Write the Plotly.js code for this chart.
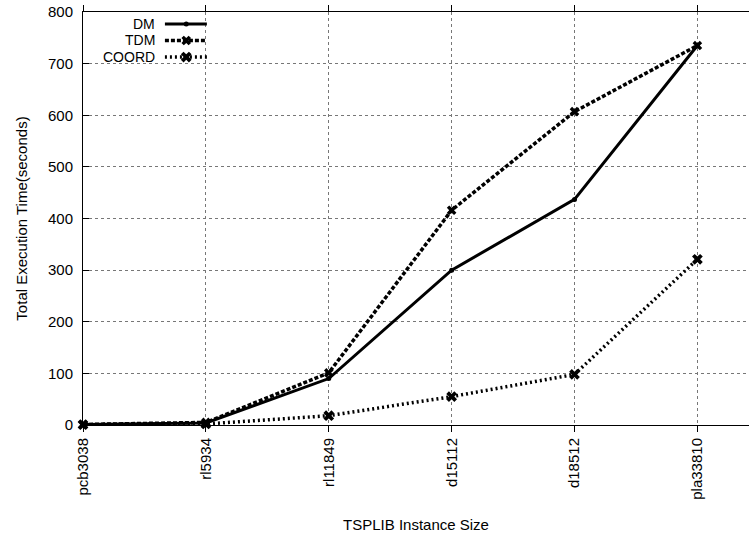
<!DOCTYPE html>
<html>
<head>
<meta charset="utf-8">
<script src="https://cdn.plot.ly/plotly-3.0.1.min.js"></script>
<style>
  html, body { margin: 0; padding: 0; background: #fff; }
  #chart { width: 749px; height: 539px; }
</style>
</head>
<body>
<div id="chart"></div>
<script>
// TSPLIB instances on the x axis
const instances = ['pcb3038', 'rl5934', 'rl11849', 'd15112', 'd18512', 'pla33810'];

// Total execution time in seconds for each method
const dmTimes    = [1, 4, 90, 300, 437, 735];
const tdmTimes   = [1, 5, 101, 416, 607, 735];
const coordTimes = [0.5, 2, 18, 55, 98, 321];

const seriesNames = ['DM', 'TDM', 'COORD'];

const yTicks = [0, 100, 200, 300, 400, 500, 600, 700, 800];

const FONT = 'Liberation Sans, Arial, Helvetica, sans-serif';

// line/marker styling per series
const styles = [
  { dash: 'solid',   width: 3,   symbol: 'circle', size: 5 },
  { dash: '4px,2px', width: 3.5, symbol: 'x',      size: 8.5 },
  { dash: '2px,3px', width: 3.5, symbol: 'x',      size: 9.5 }
];

const seriesData = [dmTimes, tdmTimes, coordTimes];

const traces = seriesData.map((vals, i) => ({
  type: 'scatter',
  mode: 'lines+markers',
  x: instances,
  y: vals,
  name: seriesNames[i],
  showlegend: false,
  cliponaxis: false,
  line: { color: '#000', width: styles[i].width, dash: styles[i].dash },
  marker: { color: '#000', symbol: styles[i].symbol, size: styles[i].size,
            line: { width: 0 } }
}));

// key drawn in the top-left corner: label on the left, sample on the right
const keyRows = [0.971, 0.931, 0.891];
const keyLine = [0.123, 0.186];
const keyMark = 0.155;
const keyText = 0.110;

seriesNames.forEach((n, i) => {
  traces.push({
    type: 'scatter', mode: 'lines', xaxis: 'x2', yaxis: 'y2',
    x: keyLine, y: [keyRows[i], keyRows[i]], showlegend: false, hoverinfo: 'skip',
    line: { color: '#000', width: styles[i].width, dash: styles[i].dash }
  });
  traces.push({
    type: 'scatter', mode: 'markers', xaxis: 'x2', yaxis: 'y2',
    x: [keyMark], y: [keyRows[i]], showlegend: false, hoverinfo: 'skip',
    marker: { color: '#000', symbol: styles[i].symbol, size: styles[i].size,
              line: { width: 0 } }
  });
});

const annotations = seriesNames.map((n, i) => ({
  xref: 'paper', yref: 'paper', x: keyText, y: keyRows[i],
  xanchor: 'right', yanchor: 'middle', showarrow: false,
  borderpad: 0,
  text: n, font: { family: FONT, size: 14, color: '#000' }
}));

const layout = {
  width: 749,
  height: 539,
  margin: { l: 83, r: 0, t: 12, b: 114, pad: 0 },
  paper_bgcolor: '#fff',
  plot_bgcolor: '#fff',
  showlegend: false,
  font: { family: FONT, size: 15, color: '#000' },
  xaxis: {
    type: 'category',
    range: [0, 5.42],
    showline: true, linecolor: '#000', linewidth: 1,
    mirror: 'ticks',
    ticks: 'outside', ticklen: 6, tickcolor: '#000',
    tickangle: -90,
    showgrid: true, gridcolor: '#777', griddash: 'dot', gridwidth: 1,
    zeroline: false,
    tickfont: { family: FONT, size: 15, color: '#000' },
    title: { text: 'TSPLIB Instance Size', standoff: 20,
             font: { family: FONT, size: 15, color: '#000' } }
  },
  yaxis: {
    range: [0, 800],
    tickvals: yTicks,
    showline: true, linecolor: '#000', linewidth: 1,
    ticks: 'inside', ticklen: 6, tickcolor: '#000',
    ticklabelstandoff: 6,
    showgrid: true, gridcolor: '#777', griddash: 'dot', gridwidth: 1,
    zeroline: false,
    tickfont: { family: FONT, size: 15, color: '#000' },
    title: { text: 'Total Execution Time(seconds)', standoff: 16,
             font: { family: FONT, size: 15, color: '#000' } }
  },
  xaxis2: { overlaying: 'x', range: [0, 1], visible: false, fixedrange: true },
  yaxis2: { overlaying: 'y', range: [0, 1], visible: false, fixedrange: true },
  annotations: annotations
};

Plotly.newPlot('chart', traces, layout, { staticPlot: true, displayModeBar: false });
</script>
</body>
</html>
